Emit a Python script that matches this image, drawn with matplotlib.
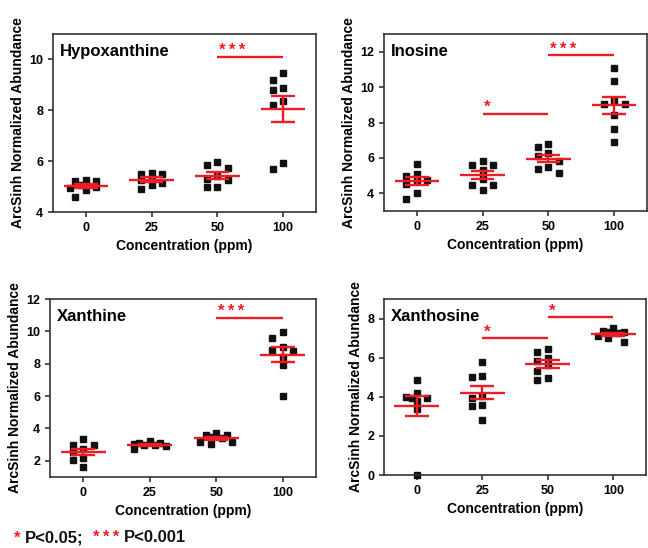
import numpy as np
import matplotlib
matplotlib.use("Agg")
import matplotlib.pyplot as plt

plt.rcParams['font.family'] = ['Liberation Sans', 'DejaVu Sans']
plt.rcParams['font.weight'] = 'bold'

RED = '#ee1c24'
INK = '#111111'
FRAME = '#333333'

conc_labels = ['0', '25', '50', '100']

# values, 8 samples per concentration
hypoxanthine = [
    [5.2, 5.25, 5.2, 4.95, 4.85, 4.6, 5.05, 4.98],
    [5.55, 5.5, 5.5, 5.15, 4.9, 5.05, 5.3, 5.25],
    [5.84, 5.72, 5.97, 5.25, 5.0, 5.0, 5.4, 5.3],
    [9.46, 9.2, 8.78, 8.89, 8.35, 8.22, 5.69, 5.92],
]
inosine = [
    [5.68, 5.0, 5.08, 4.7, 4.75, 4.55, 4.04, 3.65],
    [5.83, 5.6, 5.6, 5.32, 4.79, 4.47, 4.19, 4.47],
    [6.6, 6.8, 6.25, 6.1, 5.5, 5.13, 5.4, 5.85],
    [11.1, 10.35, 9.05, 9.05, 9.2, 8.45, 7.62, 6.9],
]
xanthine = [
    [3.35, 3.0, 2.95, 2.2, 2.05, 1.6, 2.55, 2.7],
    [3.1, 3.2, 3.1, 2.95, 2.7, 2.9, 3.05, 3.0],
    [3.62, 3.75, 3.58, 3.18, 3.05, 3.15, 3.4, 3.45],
    [9.98, 9.56, 9.06, 8.85, 8.43, 7.9, 5.98, 8.8],
]
xanthosine = [
    [4.85, 4.2, 3.8, 3.95, 3.4, 0.0, 3.95, 4.0],
    [5.78, 5.0, 5.08, 4.05, 3.92, 3.57, 3.52, 2.79],
    [5.83, 6.29, 6.43, 6.0, 5.32, 4.88, 4.98, 5.6],
    [7.5, 7.38, 7.3, 7.1, 6.8, 7.0, 7.25, 7.3],
]

# significance bars: (from group, to group, height, stars)
sig_hypo = [(2, 3, 10.1, '*\u2009*\u2009*')]
sig_ino = [(1, 2, 8.5, '*'), (2, 3, 11.8, '*\u2009*\u2009*')]
sig_xan = [(2, 3, 10.85, '*\u2009*\u2009*')]
sig_xao = [(1, 2, 7.0, '*'), (2, 3, 8.08, '*')]

panels = [
    ('Hypoxanthine', hypoxanthine, sig_hypo, (4, 11), [4, 6, 8, 10],
     [53, 34, 316, 212]),
    ('Inosine', inosine, sig_ino, (3, 13), [4, 6, 8, 10, 12],
     [384, 34, 647, 211]),
    ('Xanthine', xanthine, sig_xan, (1, 12), [2, 4, 6, 8, 10, 12],
     [50, 299, 316, 477]),
    ('Xanthosine', xanthosine, sig_xao, (0, 9), [0, 2, 4, 6, 8],
     [384, 299, 646, 475]),
]

W, H = 648, 548
fig = plt.figure(figsize=(W / 100, H / 100), dpi=100)

OFFSETS = (0, -1, 1, -0.5, 0.5, -1.5, 1.5)


def swarm(ax, xc, vals, step=0.16, gap=7.5):
    # spread points sideways when they would overlap, like a column scatter;
    # when the column is full take the least crowded slot
    placed = []
    xs = np.zeros(len(vals))
    for k in np.argsort(vals)[::-1]:
        best, best_d = None, -1
        for off in OFFSETS:
            x = xc + off * step
            px, py = ax.transData.transform((x, vals[k]))
            d = min((max(abs(px - qx), abs(py - qy)) for qx, qy in placed),
                    default=99)
            if d > gap:
                best = (x, px, py)
                break
            if d > best_d:
                best, best_d = (x, px, py), d
        x, px, py = best
        placed.append((px, py))
        xs[k] = x
    return xs


for name, groups, sigs, ylim, yticks, box in panels:
    l, t, r, b = box
    ax = fig.add_axes([l / W, 1 - b / H, (r - l) / W, (b - t) / H])
    ax.set_xlim(-0.5, 3.5)
    ax.set_ylim(*ylim)
    ax.set_yticks(yticks)
    ax.set_xticks(range(4))
    ax.set_xticklabels(conc_labels)
    for s in ax.spines.values():
        s.set_color(FRAME)
        s.set_linewidth(1.2)
    ax.tick_params(direction='out', length=3.5, width=1.2, color=FRAME,
                   labelsize=9, pad=3.5)
    for lab in ax.get_xticklabels() + ax.get_yticklabels():
        lab.set_fontweight('bold')
    ax.set_xlabel('Concentration (ppm)', fontsize=10, fontweight='bold', labelpad=4)
    ax.set_ylabel('ArcSinh Normalized Abundance', fontsize=10, fontweight='bold',
                  labelpad=3)

    for i, vals in enumerate(groups):
        vals = np.asarray(vals)
        xs = swarm(ax, i, vals)
        ax.plot(xs, vals, 's', ms=5, color=INK, zorder=2, clip_on=False)
        m = vals.mean()
        se = vals.std(ddof=1) / np.sqrt(len(vals))
        ax.hlines(m, i - 0.34, i + 0.34, color=RED, lw=1.7, zorder=3)
        ax.vlines(i, m - se, m + se, color=RED, lw=1.7, zorder=3)
        ax.hlines([m - se, m + se], i - 0.18, i + 0.18, color=RED, lw=1.7, zorder=3)

    for a, c, y, stars in sigs:
        ax.hlines(y, a, c, color=RED, lw=1.7)
        ax.annotate(stars, xy=(a, y), xytext=(1, 1), textcoords='offset points',
                    ha='left', va='baseline', color=RED, fontsize=12,
                    fontweight='bold')

    ax.text(0.025, 0.9, name, transform=ax.transAxes, fontsize=12,
            fontweight='bold', va='center', ha='left')

yl = 1 - 538 / H
fig.text(14 / W, yl, '*', color=RED, fontsize=12, fontweight='bold', va='center')
fig.text(25 / W, yl, 'P<0.05;', color=INK, fontsize=12, fontweight='bold', va='center')
fig.text(93 / W, yl, '*\u2009*\u2009*', color=RED, fontsize=12, fontweight='bold',
         va='center')
fig.text(124 / W, yl, 'P<0.001', color=INK, fontsize=12, fontweight='bold', va='center')

fig.savefig('out.png', dpi=100)
